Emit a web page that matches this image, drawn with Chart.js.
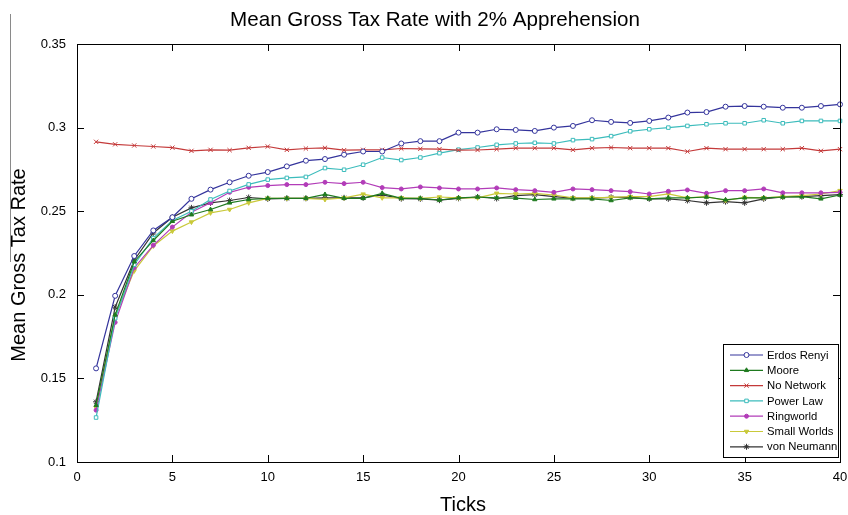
<!DOCTYPE html>
<html>
<head>
<meta charset="utf-8">
<script src="https://cdn.jsdelivr.net/npm/chart.js@4.4.1/dist/chart.umd.min.js"></script>
<style>
  html, body { margin: 0; padding: 0; background: #fff; }
  #wrap { width: 848px; height: 515px; position: relative; }
</style>
</head>
<body>
<div id="wrap"><canvas id="chartCanvas" width="848" height="515"></canvas></div>
<script>
// Mean Gross Tax Rate, 2% apprehension, one series per network type.

const ticksX = [1, 2, 3, 4, 5, 6, 7, 8, 9, 10, 11, 12, 13, 14, 15, 16, 17, 18, 19, 20,
  21, 22, 23, 24, 25, 26, 27, 28, 29, 30, 31, 32, 33, 34, 35, 36, 37, 38, 39, 40];

const xTickValues = [0, 5, 10, 15, 20, 25, 30, 35, 40];
const yTickValues = [0.1, 0.15, 0.2, 0.25, 0.3, 0.35];
const yTickLabels = ['0.1', '0.15', '0.2', '0.25', '0.3', '0.35'];

const erdosRenyi = [0.156, 0.1994, 0.2232, 0.2385, 0.2464, 0.2574, 0.2629, 0.2673, 0.2712, 0.2734,
  0.2768, 0.2802, 0.2812, 0.2838, 0.2857, 0.2857, 0.2905, 0.2919, 0.2919, 0.297,
  0.297, 0.299, 0.2986, 0.298, 0.300, 0.301, 0.3044, 0.3034, 0.3028, 0.304,
  0.306, 0.309, 0.3093, 0.3125, 0.3129, 0.3125, 0.3119, 0.3119, 0.3129, 0.3139];

const moore = [0.134, 0.188, 0.2198, 0.2325, 0.244, 0.2479, 0.251, 0.255, 0.257, 0.2577,
  0.2577, 0.2577, 0.260, 0.2577, 0.2577, 0.2607, 0.2577, 0.2577, 0.2567, 0.258,
  0.2585, 0.258, 0.2578, 0.257, 0.2574, 0.2574, 0.2574, 0.2564, 0.258, 0.2574,
  0.258, 0.258, 0.2585, 0.2568, 0.258, 0.258, 0.2585, 0.2587, 0.2574, 0.2597];

const noNetwork = [0.2915, 0.290, 0.2893, 0.2887, 0.288, 0.2861, 0.2867, 0.2865, 0.2879, 0.2887,
  0.2867, 0.2875, 0.2879, 0.2865, 0.2867, 0.2867, 0.2875, 0.2873, 0.2871, 0.2865,
  0.2866, 0.2871, 0.2877, 0.2877, 0.2877, 0.2867, 0.2877, 0.2881, 0.2877, 0.2877,
  0.2877, 0.2857, 0.2877, 0.2871, 0.2871, 0.2871, 0.2871, 0.2877, 0.2861, 0.2871];

const powerLaw = [0.1266, 0.186, 0.218, 0.2339, 0.2445, 0.250, 0.257, 0.2621, 0.266, 0.2689,
  0.2699, 0.2705, 0.2758, 0.2748, 0.2778, 0.2821, 0.2806, 0.2821, 0.2847, 0.2868,
  0.2881, 0.2897, 0.2905, 0.2909, 0.2905, 0.2925, 0.2931, 0.2949, 0.2978, 0.299,
  0.300, 0.301, 0.302, 0.3026, 0.3026, 0.3044, 0.3026, 0.304, 0.304, 0.304];

const ringworld = [0.131, 0.1835, 0.2162, 0.2296, 0.2405, 0.2494, 0.255, 0.2613, 0.2643, 0.2653,
  0.2659, 0.2659, 0.2673, 0.2665, 0.2673, 0.2641, 0.2633, 0.2645, 0.2639, 0.2633,
  0.2633, 0.2639, 0.2629, 0.2623, 0.2613, 0.2633, 0.2629, 0.2623, 0.2617, 0.2603,
  0.2619, 0.2627, 0.2607, 0.2623, 0.2623, 0.2633, 0.261, 0.261, 0.261, 0.2613];

const smallWorlds = [0.1325, 0.187, 0.2143, 0.2292, 0.2381, 0.2435, 0.249, 0.251, 0.255, 0.2577,
  0.2577, 0.2577, 0.257, 0.258, 0.2602, 0.258, 0.258, 0.2577, 0.2585, 0.258,
  0.258, 0.2607, 0.2603, 0.2607, 0.2597, 0.258, 0.258, 0.2583, 0.2587, 0.2587,
  0.2603, 0.258, 0.2587, 0.2564, 0.2583, 0.258, 0.2587, 0.2593, 0.2603, 0.2623];

const vonNeumann = [0.136, 0.1926, 0.2207, 0.237, 0.2464, 0.252, 0.255, 0.2564, 0.2582, 0.2574,
  0.2577, 0.2577, 0.258, 0.258, 0.258, 0.2597, 0.2575, 0.2574, 0.2566, 0.2577,
  0.2585, 0.2576, 0.2593, 0.2599, 0.2587, 0.2578, 0.2578, 0.2583, 0.2583, 0.2574,
  0.2574, 0.2564, 0.255, 0.2557, 0.255, 0.2574, 0.2585, 0.2587, 0.2593, 0.2599];

const FONT = 'Arial, "Liberation Sans", sans-serif';

function series(label, values, color, style, opts = {}) {
  return {
    label,
    data: ticksX.map((x, i) => ({ x, y: values[i] })),
    borderColor: color,
    backgroundColor: opts.fill || color,
    pointBorderColor: color,
    pointBackgroundColor: opts.fill || color,
    pointStyle: style,
    pointRadius: opts.radius || 2.5,
    pointRotation: opts.rotation || 0,
    pointBorderWidth: 1,
    borderWidth: 1.2,
    tension: 0,
    clip: 6
  };
}

const datasets = [
  series('Erdos Renyi', erdosRenyi, '#34349c', 'circle', { fill: '#ffffff', radius: 2.5 }),
  series('Moore', moore, '#1f7a1f', 'triangle', { radius: 2.5 }),
  series('No Network', noNetwork, '#c43a3a', 'crossRot', { radius: 3 }),
  series('Power Law', powerLaw, '#3cbcbc', 'rect', { fill: '#ffffff', radius: 2.5 }),
  series('Ringworld', ringworld, '#b23cb8', 'circle', { radius: 2 }),
  series('Small Worlds', smallWorlds, '#c9c93a', 'triangle', { radius: 2.5, rotation: 180 }),
  series('von Neumann', vonNeumann, '#333333', 'star', { radius: 3 })
];

// frame with inward tick marks, titles, legend box
const decorations = {
  id: 'decorations',
  afterDraw(chart) {
    const { ctx, chartArea: a, scales } = chart;
    ctx.save();

    // stray grey line at the left edge of the original figure
    ctx.strokeStyle = '#8a8a8a';
    ctx.lineWidth = 1;
    ctx.beginPath();
    ctx.moveTo(10.5, 14);
    ctx.lineTo(10.5, 262);
    ctx.stroke();

    ctx.strokeStyle = '#000';
    ctx.lineWidth = 1;
    ctx.strokeRect(Math.round(a.left) + 0.5, Math.round(a.top) + 0.5,
      Math.round(a.right - a.left), Math.round(a.bottom - a.top));

    const tl = 7;
    ctx.beginPath();
    xTickValues.slice(1, -1).forEach(v => {
      const px = Math.round(scales.x.getPixelForValue(v)) + 0.5;
      ctx.moveTo(px, a.bottom); ctx.lineTo(px, a.bottom - tl);
      ctx.moveTo(px, a.top); ctx.lineTo(px, a.top + tl);
    });
    yTickValues.slice(1, -1).forEach(v => {
      const py = Math.round(scales.y.getPixelForValue(v)) + 0.5;
      ctx.moveTo(a.left, py); ctx.lineTo(a.left + tl, py);
      ctx.moveTo(a.right, py); ctx.lineTo(a.right - tl, py);
    });
    ctx.stroke();

    ctx.fillStyle = '#000';
    ctx.font = `20.6px ${FONT}`;
    ctx.textAlign = 'center';
    ctx.textBaseline = 'middle';
    ctx.fillText('Mean Gross Tax Rate with 2% Apprehension', 435, 20);
    ctx.font = `20px ${FONT}`;
    ctx.fillText('Ticks', 463, 505);

    ctx.save();
    ctx.translate(19, 265);
    ctx.rotate(-Math.PI / 2);
    ctx.fillText('Mean Gross Tax Rate', 0, 0);
    ctx.restore();

    // legend
    const bx = 723, by = 344, bw = 115, bh = 113;
    ctx.fillStyle = '#fff';
    ctx.fillRect(bx, by, bw, bh);
    ctx.strokeStyle = '#000';
    ctx.strokeRect(bx + 0.5, by + 0.5, bw, bh);
    ctx.font = `11.3px ${FONT}`;
    ctx.textAlign = 'left';
    chart.data.datasets.forEach((ds, i) => {
      const y = by + 11 + i * 15.3;
      ctx.strokeStyle = ds.borderColor;
      ctx.lineWidth = 1.2;
      ctx.beginPath();
      ctx.moveTo(730, y); ctx.lineTo(763, y);
      ctx.stroke();
      ctx.fillStyle = ds.pointBackgroundColor;
      ctx.lineWidth = 1;
      Chart.helpers.drawPoint(ctx, {
        pointStyle: ds.pointStyle,
        radius: ds.pointRadius,
        rotation: ds.pointRotation,
        borderWidth: 1
      }, 746.5, y);
      ctx.fillStyle = '#000';
      ctx.fillText(ds.label, 767, y + 0.5);
    });
    ctx.restore();
  }
};

new Chart(document.getElementById('chartCanvas').getContext('2d'), {
  type: 'line',
  data: { datasets },
  options: {
    responsive: false,
    animation: false,
    layout: { padding: { top: 44, right: 8, left: 0, bottom: 0 } },
    plugins: { legend: { display: false }, title: { display: false }, tooltip: { enabled: false } },
    scales: {
      x: {
        type: 'linear',
        min: 0,
        max: 40,
        grid: { display: false, drawTicks: false },
        border: { display: false },
        afterBuildTicks: s => { s.ticks = xTickValues.map(v => ({ value: v })); },
        afterFit: s => { s.height = 53; s.paddingLeft = 0; s.paddingRight = 0; },
        ticks: { color: '#000', padding: 8, font: { family: FONT, size: 13 }, maxRotation: 0 }
      },
      y: {
        type: 'linear',
        min: 0.1,
        max: 0.35,
        grid: { display: false, drawTicks: false },
        border: { display: false },
        afterBuildTicks: s => { s.ticks = yTickValues.map(v => ({ value: v })); },
        afterFit: s => { s.width = 77; s.paddingTop = 0; s.paddingBottom = 0; },
        ticks: {
          color: '#000',
          padding: 11,
          font: { family: FONT, size: 13 },
          callback: (v, i) => yTickLabels[i]
        }
      }
    }
  },
  plugins: [decorations]
});
</script>
</body>
</html>
